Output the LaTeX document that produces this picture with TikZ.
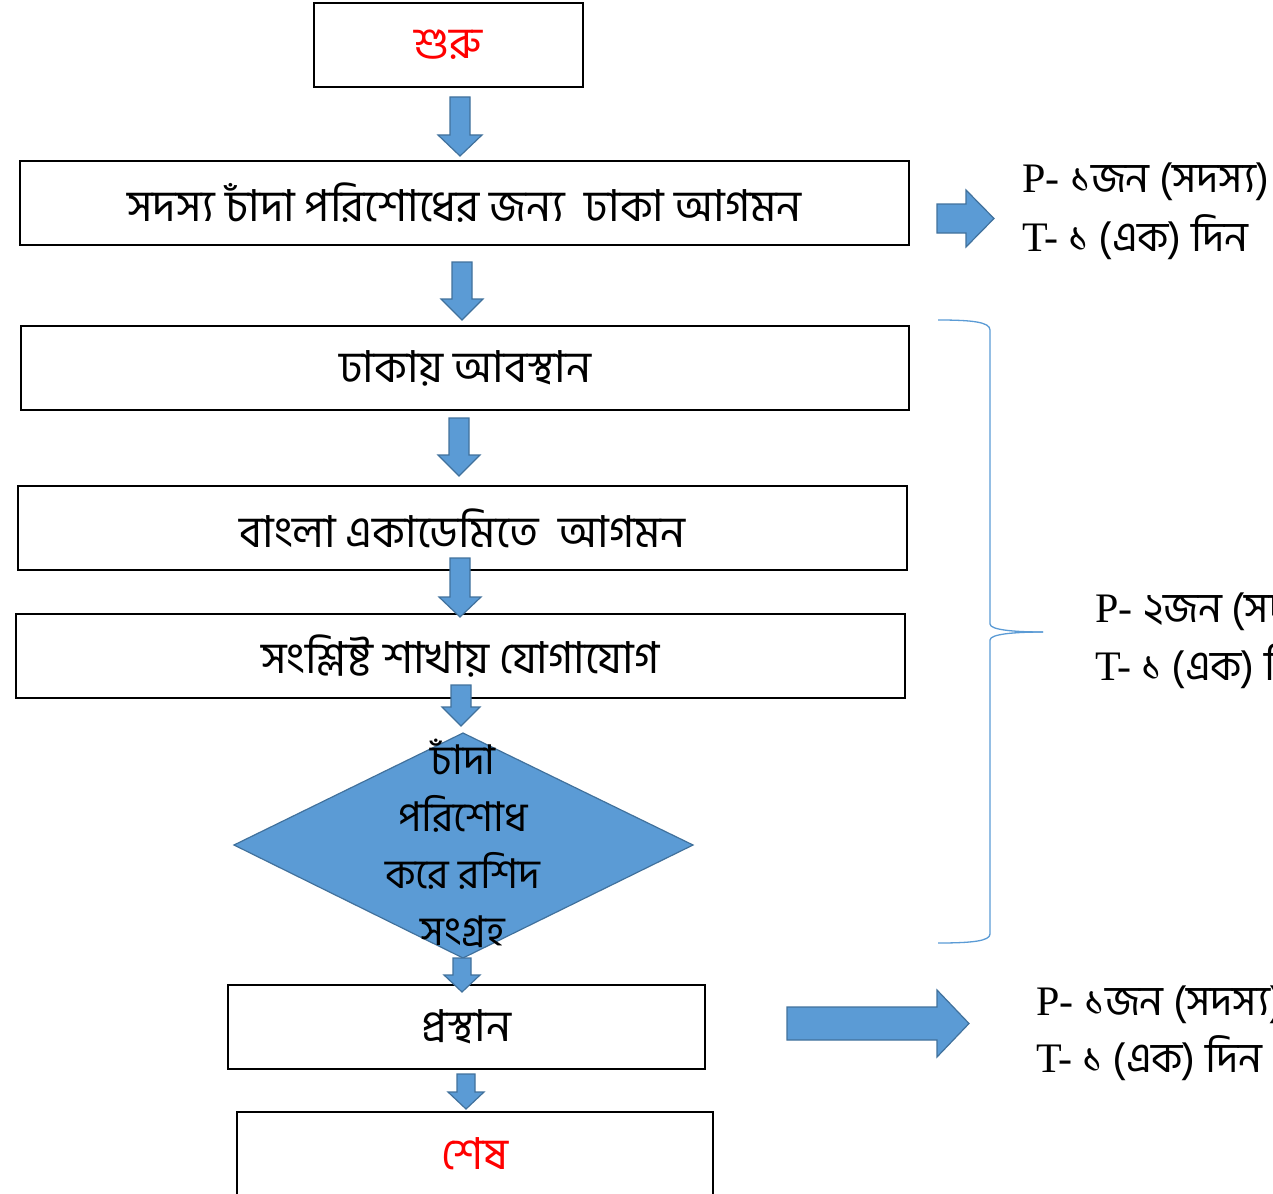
\documentclass[tikz,border=0pt]{standalone}
\usepackage{fontspec}
\setmainfont{Liberation Serif}
\newfontfamily\bn[Script=Bengali]{Hind Siliguri}
\definecolor{bfill}{HTML}{5B9BD5}
\definecolor{bline}{HTML}{41719C}
\newcommand\darr[6]{% cx, shaft top, head top, tip, half shaft, half head
  \draw[barrow] (#1-#5,#2) -- (#1+#5,#2) -- (#1+#5,#3) -- (#1+#6,#3) -- (#1,#4)
    -- (#1-#6,#3) -- (#1-#5,#3) -- cycle;}
\newcommand\rarr[6]{% x0, head base, tip, cy, half shaft, half head
  \draw[barrow] (#1,#4-#5) -- (#2,#4-#5) -- (#2,#4-#6) -- (#3,#4) -- (#2,#4+#6)
    -- (#2,#4+#5) -- (#1,#4+#5) -- cycle;}
\begin{document}
\begin{tikzpicture}[x=1pt,y=-1pt,
  box/.style={draw=black, line width=1.5pt, rectangle, inner sep=0pt,
    font=\bn\fontsize{44}{50}\selectfont},
  barrow/.style={fill=bfill, draw=bline, line width=1.2pt, line join=miter},
  side/.style={anchor=base west, inner sep=0pt, font=\fontsize{42}{50}\selectfont},
  bracestyle/.style={draw=bfill, line width=1.3pt}]
\useasboundingbox (0,0) rectangle (1273,1193);
\clip (0,0) rectangle (1273,1193);
% boxes
\node[box, minimum width=269, minimum height=84, text=red] (start) at (448.5,45) {শুরু};
\node[box, minimum width=889, minimum height=84] (b1) at (464.5,203) {সদস্য চাঁদা পরিশোধের জন্য\ \ ঢাকা আগমন};
\node[box, minimum width=888, minimum height=84] (b2) at (465,368) {ঢাকায় আবস্থান};
\node[box, minimum width=889, minimum height=84] (b3) at (462.5,528) {বাংলা একাডেমিতে\ \ আগমন};
\node[box, minimum width=889, minimum height=84] (b4) at (460.5,656) {সংশ্লিষ্ট শাখায় যোগাযোগ};
\node[box, minimum width=477, minimum height=84] (b5) at (466.5,1027) {প্রস্থান};
\node[box, minimum width=476, minimum height=84, text=red] (end) at (475,1154) {শেষ};
% diamond
\path[draw=bline, fill=bfill, line width=1.2pt] (234,845) coordinate (dl) -- (463,733) coordinate (dt)
  -- (693,845) coordinate (dr) -- (463,958) coordinate (db) -- cycle;
\node[font=\bn\fontsize{41}{57}\selectfont, align=center, inner sep=0pt] (dtext) at (463,843)
  {চাঁদা\\পরিশোধ\\করে রশিদ\\সংগ্রহ};
% down arrows
\darr{460}{97}{135}{156}{10}{22}
\darr{462}{262}{299}{320}{10}{21}
\darr{459}{418}{455}{476}{10}{21}
\darr{460}{558}{597}{617}{10}{21}
\darr{461}{685}{707}{726}{10}{19}
\darr{462}{958}{975}{992}{9}{18}
\darr{466}{1074}{1092}{1109}{9}{18}
% right arrows
\rarr{937}{966}{994}{218.5}{14.5}{28.5}
\rarr{787}{937}{969}{1023.5}{16.5}{33.5}
% brace
\draw[bracestyle] (938,320) .. controls (972,320) and (990,322) .. (990,330) -- (990,624)
  .. controls (990,630) and (1015,632) .. (1043,632);
\draw[bracestyle] (1043,632) .. controls (1015,632) and (990,634) .. (990,640) -- (990,934)
  .. controls (990,941) and (972,943) .. (938,943);
% side texts
\node[side] (p1) at (1022,193) {P- {\bn ১জন (সদস্য)}};
\node[side] (t1) at (1022,251) {T- {\bn ১ (এক) দিন}};
\node[side] (p2) at (1095,622) {P- {\bn ২জন (সদস্য)}};
\node[side] (t2) at (1095,680) {T- {\bn ১ (এক) দিন}};
\node[side] (p3) at (1036,1015) {P- {\bn ১জন (সদস্য)}};
\node[side] (t3) at (1036,1072) {T- {\bn ১ (এক) দিন}};
\end{tikzpicture}
\end{document}
